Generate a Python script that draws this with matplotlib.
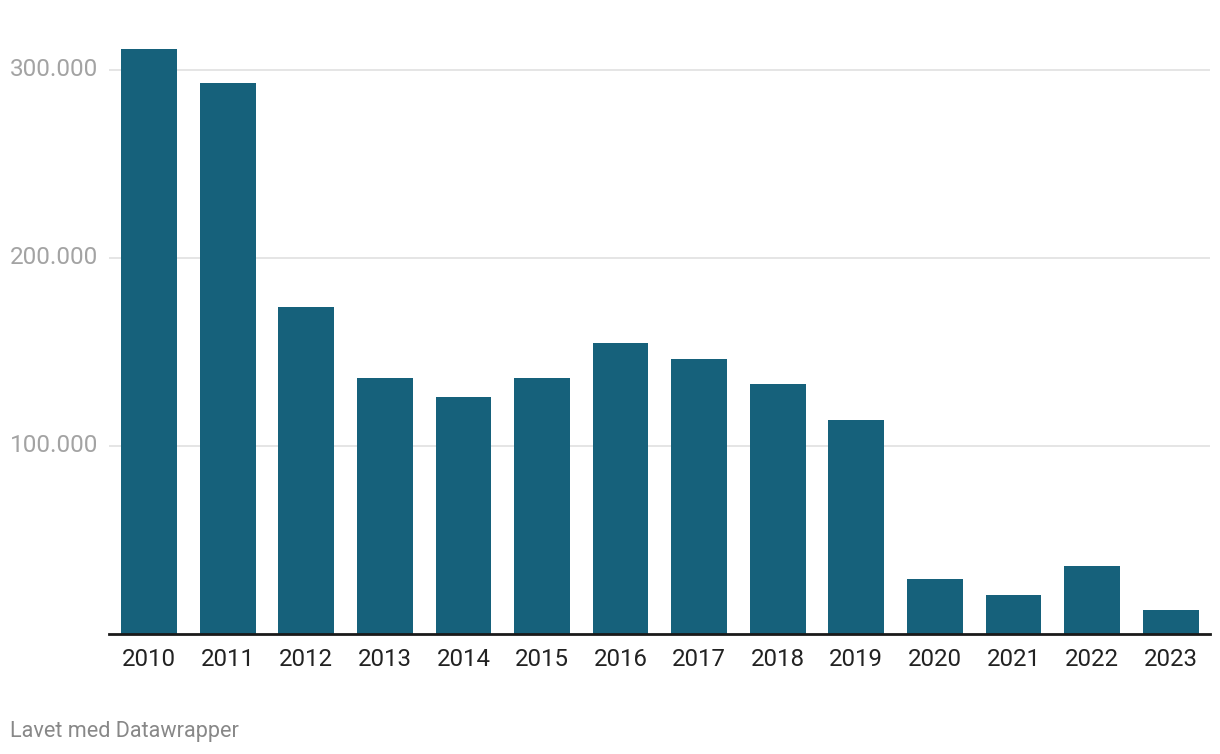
import numpy as np
import matplotlib.pyplot as plt
import matplotlib.transforms as mtransforms

# data
years = ["2010", "2011", "2012", "2013", "2014", "2015", "2016",
         "2017", "2018", "2019", "2020", "2021", "2022", "2023"]
values = [311000, 293000, 174000, 136000, 126000, 136000, 155000,
          146000, 133000, 114000, 29000, 21000, 36000, 12700]
yticks = [100000, 200000, 300000]
ytick_labels = ["100.000", "200.000", "300.000"]

plt.rcParams['font.family'] = ['Roboto', 'DejaVu Sans']

fig = plt.figure(figsize=(12.2, 7.54), dpi=100)
ax = fig.add_axes([109/1220, 1-634/754, (1210-109)/1220, (634-40.2)/754])

x = np.arange(len(years))
ax.bar(x, values, width=0.71, color="#16617b", zorder=2)

ax.set_xlim(-0.51, len(years) - 0.5)
ax.set_ylim(0, 315800)

# gridlines
for v in yticks:
    ax.axhline(v, color="#e3e3e3", lw=1.3, zorder=1)

ax.set_yticks([])
ax.set_xticks(x)
ax.set_xticklabels(years, fontsize=17.3, color="#222222")
ax.tick_params(axis='x', length=0, pad=10)

# y labels left aligned at the figure edge
trans = mtransforms.blended_transform_factory(fig.transFigure, ax.transData)
for v, lab in zip(yticks, ytick_labels):
    ax.text(10/1220, v, lab, transform=trans, ha='left', va='center',
            fontsize=17.5, color="#a3a3a3")

for s in ['top', 'right', 'left']:
    ax.spines[s].set_visible(False)
ax.spines['bottom'].set_color("#1a1a1a")
ax.spines['bottom'].set_linewidth(2)
ax.spines['bottom'].set_zorder(3)

fig.text(10/1220, 1-731/754, "Lavet med Datawrapper", ha='left', va='center',
         fontsize=15.6, color="#888888")

fig.savefig("out.png", dpi=100)
